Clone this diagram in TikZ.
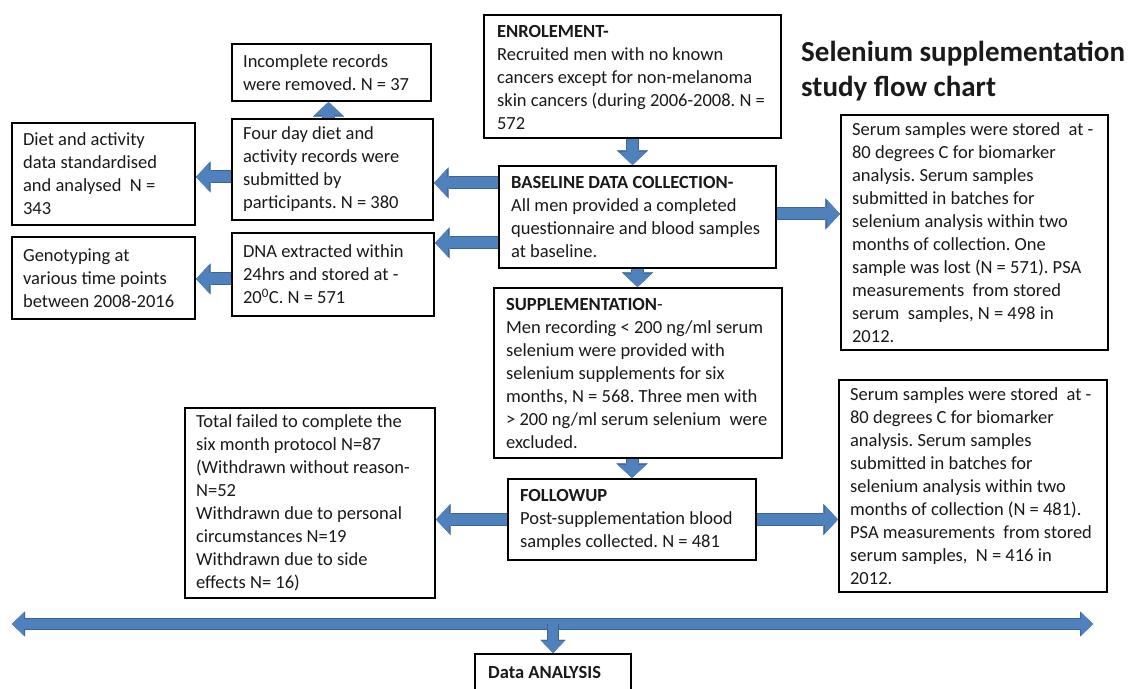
\documentclass[tikz,border=0pt]{standalone}
\usepackage{fontspec}
\setmainfont{Carlito}
\frenchspacing
\usetikzlibrary{arrows.meta}
\definecolor{abl}{HTML}{4F81BD}
\definecolor{abd}{HTML}{3A6496}
\definecolor{txt}{HTML}{1A1A1A}
\tikzset{
  bt/.tip={Triangle[width=28pt,length=13pt,line width=0.1pt]},
  btd/.tip={Triangle[width=31pt,length=14.5pt,line width=0.1pt]},
  bs/.tip={Triangle[width=23pt,length=12pt,line width=0.1pt]},
  bsd/.tip={Triangle[width=25pt,length=13pt,line width=0.1pt]},
  barrow/.style={draw=abl, line width=11pt, -bt,
    preaction={draw=abd, line width=13pt, -btd}},
  dbarrow/.style={draw=abl, line width=10pt, bs-bs,
    preaction={draw=abd, line width=12pt, bsd-bsd}},
  sarrow/.style={draw=abl, line width=10pt, -bs,
    preaction={draw=abd, line width=12pt, -bsd}},
  box/.style={draw=black, line width=2.2pt, fill=white, inner sep=0pt},
  tx/.style={align=left, inner sep=0pt, text=txt, anchor=west,
    font=\fontsize{18.5}{23}\selectfont},
  titletext/.style={align=left, text=txt, inner sep=0pt,
    font=\fontsize{29}{35}\selectfont\bfseries}
}
\begin{document}
\begin{tikzpicture}[x=1pt,y=-1pt]
\useasboundingbox (0,0) rectangle (1137,688);
\clip (0,0) rectangle (1137,688);

% main column
\node[box, minimum width=297, minimum height=123] (enrol) at (632.5,76.5) {};
\node[tx] (enrolT) at ([xshift=14pt,yshift=-1pt]enrol.west)
  {\textbf{ENROLEMENT-}\\Recruited men with no known\\cancers except for non-melanoma\\skin cancers (during 2006-2008. N =\\572};
\node[box, minimum width=277, minimum height=102] (base) at (637.5,217) {};
\node[tx] (baseT) at ([xshift=13pt]base.west)
  {\textbf{BASELINE DATA COLLECTION-}\\All men provided a completed\\questionnaire and blood samples\\at baseline.};
\node[box, minimum width=288, minimum height=170] (supp) at (638,373) {};
\node[tx] (suppT) at ([xshift=13pt]supp.west)
  {\textbf{SUPPLEMENTATION}-\\Men recording < 200 ng/ml serum\\selenium were provided with\\selenium supplements for six\\months, N = 568. Three men with\\> 200 ng/ml serum selenium\ \ were\\excluded.};
\node[box, minimum width=248, minimum height=81] (follow) at (632,519.5) {};
\node[tx] (followT) at ([xshift=13pt]follow.west)
  {\textbf{FOLLOWUP}\\Post-supplementation blood\\samples collected. N = 481};

% left column
\node[box, minimum width=199, minimum height=57] (incomp) at (331.5,72.5) {};
\node[tx] (incompT) at ([xshift=12pt]incomp.west)
  {Incomplete records\\were removed. N = 37};
\node[box, minimum width=201, minimum height=101] (four) at (332.5,169.5) {};
\node[tx] (fourT) at ([xshift=12pt]four.west)
  {Four day diet and\\activity records were\\submitted by\\participants. N = 380};
\node[box, minimum width=202, minimum height=83] (dna) at (333,274.5) {};
\node[tx] (dnaT) at ([xshift=12pt]dna.west)
  {DNA extracted within\\24hrs and stored at -\\20\textsuperscript{0}C. N = 571};
\node[box, minimum width=183, minimum height=102] (diet) at (103.5,174) {};
\node[tx] (dietT) at ([xshift=12pt]diet.west)
  {Diet and activity\\data standardised\\and analysed\ \ N =\\343};
\node[box, minimum width=183, minimum height=82] (geno) at (103.5,278) {};
\node[tx] (genoT) at ([xshift=12pt]geno.west)
  {Genotyping at\\various time points\\between 2008-2016};
\node[box, minimum width=250, minimum height=190] (failed) at (310,503) {};
\node[tx] (failedT) at ([xshift=12pt]failed.west)
  {Total failed to complete the\\six month protocol N=87\\(Withdrawn without reason-\\N=52\\Withdrawn due to personal\\circumstances N=19\\Withdrawn due to side\\effects N= 16)};

% right column
\node[box, minimum width=267, minimum height=235] (serA) at (974.5,232.5) {};
\node[tx] (serAT) at ([xshift=12pt]serA.west)
  {Serum samples were stored\ \ at -\\80 degrees C for biomarker\\analysis. Serum samples\\submitted in batches for\\selenium analysis within two\\months of collection. One\\sample was lost (N = 571). PSA\\measurements\ \ from stored\\serum\ \ samples, N = 498 in\\2012.};
\node[box, minimum width=268, minimum height=212] (serB) at (973,486) {};
\node[tx] (serBT) at ([xshift=12pt]serB.west)
  {Serum samples were stored\ \ at -\\80 degrees C for biomarker\\analysis. Serum samples\\submitted in batches for\\selenium analysis within two\\months of collection (N = 481).\\PSA measurements\ \ from stored\\serum samples,\ \ N = 416 in\\2012.};

% title
\node[titletext, anchor=north west] (title) at (801,41)
  {Selenium supplementation\\study flow chart};

% data analysis
\node[box, minimum width=156, minimum height=60] (data) at (553,684) {};
\node[tx, font=\fontsize{18.5}{23}\selectfont\bfseries] (dataT) at (488,672) {Data ANALYSIS};

% arrows
\draw[barrow] (enrol.south) -- (enrol.south |- base.north);
\coordinate (bA) at ([yshift=-18pt]base.north west);
\draw[barrow] (bA) -- (bA -| four.east);
\coordinate (bB) at ([yshift=-78pt]base.north west);
\draw[barrow] (bB) -- (bB -| dna.east);
\coordinate (bC) at ([yshift=-49pt]base.north east);
\draw[barrow] (bC) -- (bC -| serA.west);
\draw[barrow] (base.south) -- (base.south |- supp.north);
\coordinate (fA) at ([xshift=-4pt]four.north);
\draw[barrow] (fA) -- (fA |- incomp.south);
\coordinate (fB) at ([yshift=-59pt]four.north west);
\draw[barrow] (fB) -- (fB -| diet.east);
\coordinate (dA) at ([yshift=-47pt]dna.north west);
\draw[barrow] (dA) -- (dA -| geno.east);
\draw[barrow] (follow.north |- supp.south) -- (follow.north);
\draw[barrow] (follow.west) -- (follow.west -| failed.east);
\draw[barrow] (follow.east) -- (follow.east -| serB.west);

\coordinate (hl) at (12,624);
\coordinate (hr) at (1093,624);
\draw[dbarrow] (hl) -- (hr);
\draw[sarrow] (data.north |- hl) -- (data.north);
\end{tikzpicture}
\end{document}
